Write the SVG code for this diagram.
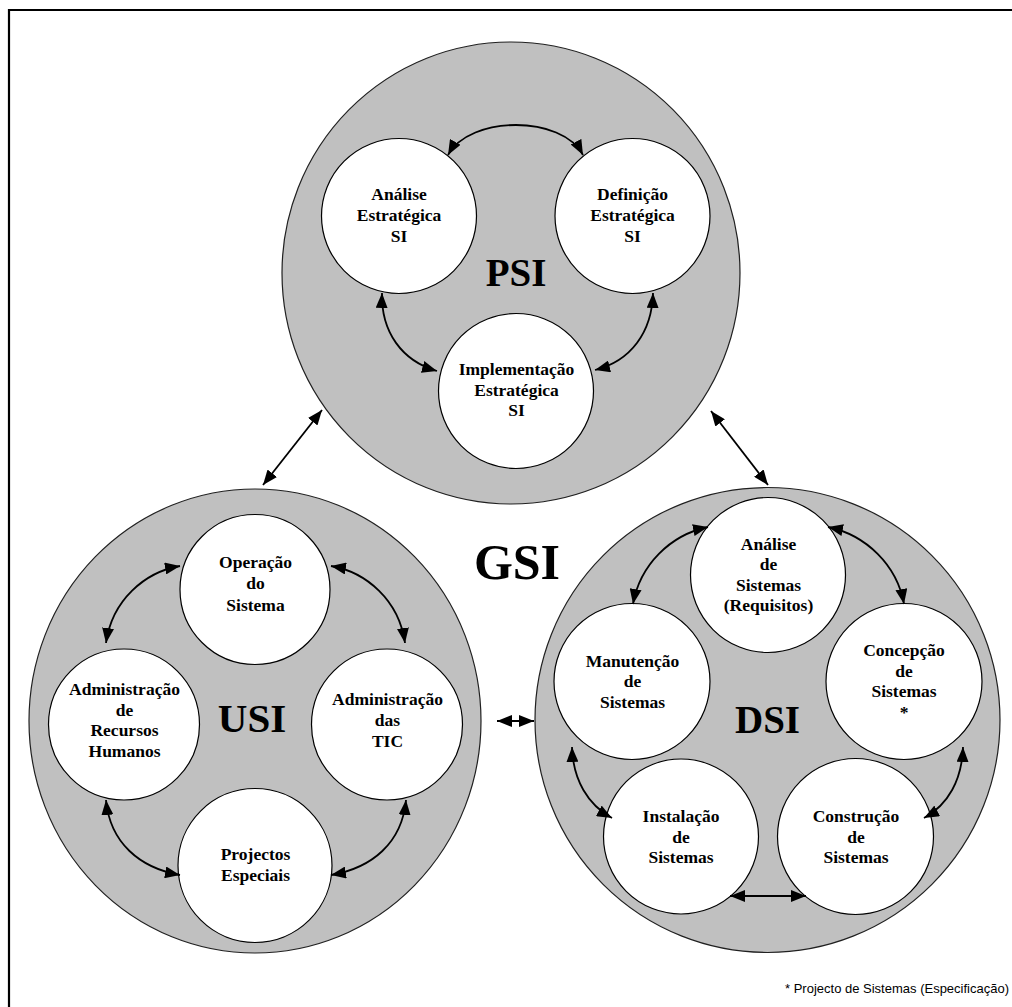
<svg xmlns="http://www.w3.org/2000/svg" width="1012" height="1007" viewBox="0 0 1012 1007">
  <style>
    .area { fill: #c0c0c0; stroke: #202020; stroke-width: 1.2; }
    .node { fill: #ffffff; stroke: #000000; stroke-width: 1.2; }
    .lbl { font-family: "Liberation Serif", "Times New Roman", serif; font-weight: bold; font-size: 17.5px; text-anchor: middle; fill: #000; }
    .ttl { font-family: "Liberation Serif", "Times New Roman", serif; font-weight: bold; font-size: 39px; text-anchor: middle; fill: #000; }
    .big { font-size: 50px; }
    .link { fill: none; stroke: #000; stroke-width: 1.8; marker-start: url(#tip); marker-end: url(#tip); }
    .note { font-family: "Liberation Sans", Arial, sans-serif; font-size: 13px; text-anchor: end; fill: #000; }
  </style>
  <defs>
    <marker id="tip" markerUnits="userSpaceOnUse" markerWidth="15" markerHeight="12" refX="15" refY="6" orient="auto-start-reverse" viewBox="0 0 15 12">
      <path d="M0,0 L15,6 L0,12 z" fill="#000"/>
    </marker>
  </defs>

  <rect width="1012" height="1007" fill="#fff"/>
  <!-- frame: top and left rules only -->
  <path d="M9,1007 L9,10 L1012,10" fill="none" stroke="#000" stroke-width="2.2"/>

  <!-- PSI area -->
  <g id="psi">
    <ellipse class="area" cx="511" cy="273" rx="229" ry="231"/>
    <text class="ttl" x="516" y="286">PSI</text>
  </g>
  <g id="psi-analise">
    <circle class="node" cx="399" cy="216" r="77.5"/>
    <text class="lbl" x="399" y="200">Análise</text>
    <text class="lbl" x="399" y="221">Estratégica</text>
    <text class="lbl" x="399" y="242">SI</text>
  </g>
  <g id="psi-definicao">
    <circle class="node" cx="632.5" cy="216" r="77.5"/>
    <text class="lbl" x="632.5" y="200">Definição</text>
    <text class="lbl" x="632.5" y="221">Estratégica</text>
    <text class="lbl" x="632.5" y="242">SI</text>
  </g>
  <g id="psi-implementacao">
    <circle class="node" cx="516" cy="391" r="77.5"/>
    <text class="lbl" x="516.5" y="375">Implementação</text>
    <text class="lbl" x="516.5" y="396">Estratégica</text>
    <text class="lbl" x="516.5" y="416">SI</text>
  </g>

  <!-- USI area -->
  <g id="usi">
    <ellipse class="area" cx="255" cy="721" rx="226" ry="232"/>
    <text class="ttl" x="252" y="732" style="font-size:41px">USI</text>
  </g>
  <g id="usi-operacao">
    <circle class="node" cx="255" cy="589.5" r="75"/>
    <text class="lbl" x="255.5" y="568">Operação</text>
    <text class="lbl" x="255.5" y="589">do</text>
    <text class="lbl" x="255.5" y="610.5">Sistema</text>
  </g>
  <g id="usi-rh">
    <circle class="node" cx="124" cy="724.5" r="75.5"/>
    <text class="lbl" x="124.5" y="695">Administração</text>
    <text class="lbl" x="124.5" y="715.5">de</text>
    <text class="lbl" x="124.5" y="736">Recursos</text>
    <text class="lbl" x="124.5" y="756.5">Humanos</text>
  </g>
  <g id="usi-tic">
    <circle class="node" cx="387" cy="724.5" r="75.5"/>
    <text class="lbl" x="387.5" y="705">Administração</text>
    <text class="lbl" x="387.5" y="725.5">das</text>
    <text class="lbl" x="387.5" y="746.5">TIC</text>
  </g>
  <g id="usi-projectos">
    <circle class="node" cx="255" cy="865.5" r="77"/>
    <text class="lbl" x="255.5" y="860">Projectos</text>
    <text class="lbl" x="255.5" y="880.5">Especiais</text>
  </g>

  <!-- DSI area -->
  <g id="dsi">
    <ellipse class="area" cx="767.5" cy="720" rx="232.5" ry="232.5"/>
    <text class="ttl" x="767.5" y="733">DSI</text>
  </g>
  <g id="dsi-analise">
    <circle class="node" cx="768" cy="575" r="77.5"/>
    <text class="lbl" x="768.5" y="549.5">Análise</text>
    <text class="lbl" x="768.5" y="570">de</text>
    <text class="lbl" x="768.5" y="590.5">Sistemas</text>
    <text class="lbl" x="768.5" y="611">(Requisitos)</text>
  </g>
  <g id="dsi-manutencao">
    <circle class="node" cx="632" cy="681.5" r="78"/>
    <text class="lbl" x="632.5" y="666.5">Manutenção</text>
    <text class="lbl" x="632.5" y="687">de</text>
    <text class="lbl" x="632.5" y="707.5">Sistemas</text>
  </g>
  <g id="dsi-concepcao">
    <circle class="node" cx="904" cy="681.5" r="78"/>
    <text class="lbl" x="904" y="656">Concepção</text>
    <text class="lbl" x="904" y="676.5">de</text>
    <text class="lbl" x="904" y="697">Sistemas</text>
    <text class="lbl" x="904" y="717.5">*</text>
  </g>
  <g id="dsi-instalacao">
    <circle class="node" cx="681" cy="836.5" r="77.5"/>
    <text class="lbl" x="681" y="822">Instalação</text>
    <text class="lbl" x="681" y="842.5">de</text>
    <text class="lbl" x="681" y="863">Sistemas</text>
  </g>
  <g id="dsi-construcao">
    <circle class="node" cx="855.5" cy="836.5" r="78"/>
    <text class="lbl" x="856" y="822">Construção</text>
    <text class="lbl" x="856" y="842.5">de</text>
    <text class="lbl" x="856" y="863">Sistemas</text>
  </g>

  <text id="gsi" class="ttl big" x="517" y="579">GSI</text>

  <!-- two-way flows -->
  <g id="connectors">
    <!-- inside PSI -->
    <path class="link" d="M448,155 C470,115 562,115 583,155"/>
    <path class="link" d="M382,293 C381,332 402,361 437,371"/>
    <path class="link" d="M653,293 C652,332 631,361 595,370"/>
    <!-- between areas -->
    <path class="link" d="M322,410 L263,485"/>
    <path class="link" d="M711,411 L768,485"/>
    <path class="link" d="M497,721 L534,721"/>
    <!-- inside USI -->
    <path class="link" d="M180,566 C145,572 112,600 106,643"/>
    <path class="link" d="M331,566 C366,572 399,600 405,643"/>
    <path class="link" d="M106,800 C110,843 140,868 180,875"/>
    <path class="link" d="M406,800 C402,843 372,868 331,875"/>
    <!-- inside DSI -->
    <path class="link" d="M708,527 C670,535 640,565 633,604"/>
    <path class="link" d="M828,527 C866,535 897,565 904,604"/>
    <path class="link" d="M572,747 C573,780 588,805 612,818"/>
    <path class="link" d="M963,747 C962,780 948,805 924,818"/>
    <path class="link" d="M730,896 L806,896"/>
  </g>

  <text class="note" x="1009" y="993">* Projecto de Sistemas (Especificação)</text>
</svg>
